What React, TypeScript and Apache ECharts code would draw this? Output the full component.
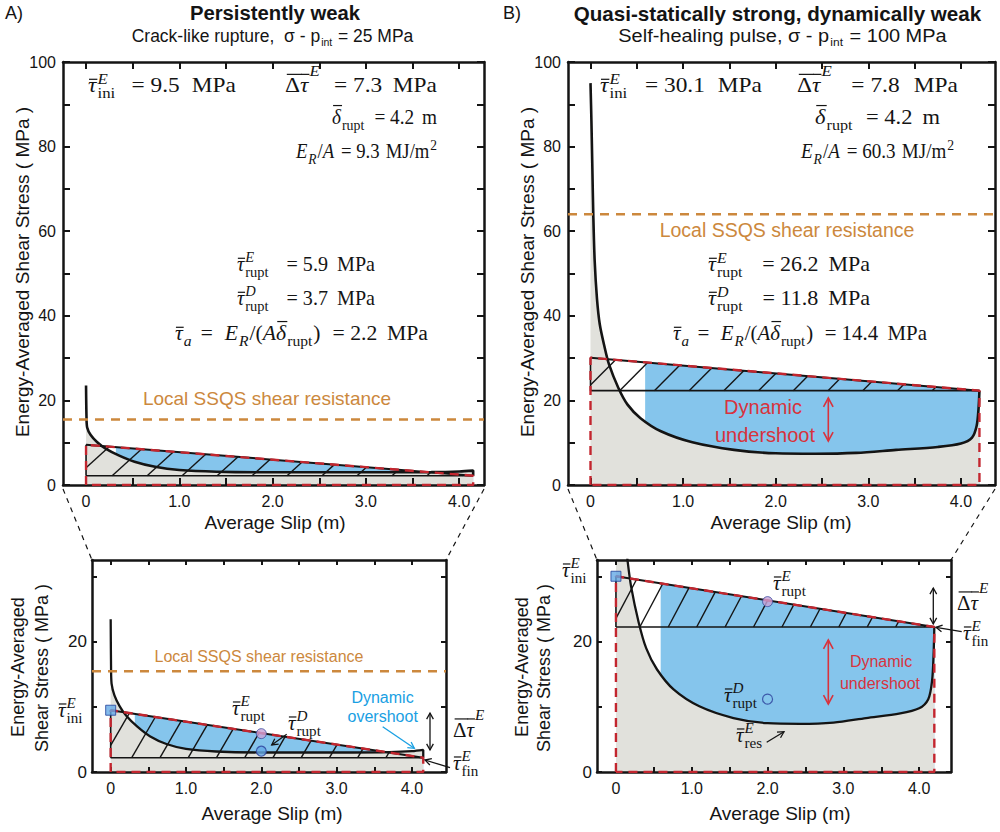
import React, { useEffect, useRef } from 'react';
import * as echarts from 'echarts';

// ---------- axis ticks / labels ----------
const X_TICKS = [0, 0.5, 1, 1.5, 2, 2.5, 3, 3.5, 4];
const X_LABELS = [0, 1, 2, 3, 4];
const Y_TICKS_TOP = [0, 10, 20, 30, 40, 50, 60, 70, 80, 90, 100];
const Y_LABELS_TOP = [0, 20, 40, 60, 80, 100];
const Y_TICKS_BOTTOM = [0, 10, 20, 30];
const Y_LABELS_BOTTOM = [0, 20];

// ---------- Panel A : persistently weak ----------
const A_SLIP = [0, 0.005, 0.012, 0.05, 0.12, 0.21, 0.35, 0.52, 0.74, 1.0, 1.4, 2.0, 2.6, 3.2, 3.7, 4.0, 4.15, 4.15];
const A_STRESS = [23.5, 16.0, 13.6, 11.8, 10.1, 8.6, 7.0, 5.5, 4.3, 3.55, 3.15, 3.0, 3.0, 3.0, 3.05, 3.2, 3.4, 2.2];
const A_TAU_INI = 9.5;
const A_DTAU = 7.3;
const A_DELTA = 4.15;
const A_SSQS = 15.5;
const A_BLUE_FROM = 0.32;
const A_RUPT_E = [2.0, 5.9];
const A_RUPT_D = [2.0, 3.2];

// ---------- Panel B : quasi-statically strong, dynamically weak ----------
const B_SLIP = [0, 0.01, 0.02, 0.03, 0.045, 0.07, 0.1, 0.15, 0.2, 0.3, 0.4, 0.54, 0.76, 1.1, 1.55, 2.0, 2.43, 2.87, 3.3, 3.75, 4.0, 4.12, 4.17, 4.19, 4.2];
const B_STRESS = [95, 86, 75, 64, 53, 44, 38, 32.8, 28.5, 23, 19, 15.8, 12.7, 10.1, 8.3, 7.5, 7.4, 7.6, 8.3, 9.0, 9.8, 11.2, 14, 18, 22.3];
const B_TAU_INI = 30.1;
const B_DTAU = 7.8;
const B_DELTA = 4.2;
const B_SSQS = 64;
const B_BLUE_FROM = 0.59;
const B_RUPT_E = [2.0, 26.2];
const B_RUPT_D = [2.0, 11.2];

// ---------- styling ----------
const SANS = '"Liberation Sans", Arial, Helvetica, sans-serif';
const SERIF = '"Liberation Serif", "Times New Roman", serif';
const BLACK = '#141414';
const GRAY = '#e1e1dc';
const BLUE = '#85c5ec';
const RED = '#c3262f';
const RED_TXT = '#d8333d';
const ORANGE = '#cc883d';
const CYAN = '#19a0e3';

const GRIDS = [
  { left: 63, top: 62, width: 421, height: 423 },
  { left: 568, top: 62, width: 427, height: 423 },
  { left: 92, top: 560, width: 354, height: 212 },
  { left: 597, top: 560, width: 354, height: 212 },
];
const XR = [[-0.247, 4.266], [-0.243, 4.368], [-0.248, 4.452], [-0.25, 4.42]];
const YR = [[0, 100], [0, 100], [0, 32.6], [0, 32.6]];

let _ctx: any = null;
function tw(text: string, size: number, italic: boolean, fam: string, bold = false) {
  if (!_ctx) _ctx = document.createElement('canvas').getContext('2d');
  _ctx.font = `${italic ? 'italic ' : ''}${bold ? 'bold ' : ''}${size}px ${fam}`;
  return _ctx.measureText(text).width;
}

function textEl(text: string, x: number, y: number, size: number, o: any = {}) {
  return {
    type: 'text', x, y, silent: true, z: 100, rotation: o.rot || 0, scaleX: o.sx || 1,
    style: {
      text, fontSize: size, fontFamily: o.fam || SANS,
      fontStyle: o.it ? 'italic' : 'normal', fontWeight: o.bold ? 'bold' : 'normal',
      fill: o.color || BLACK,
      align: o.align || 'center', textAlign: o.align || 'center',
      verticalAlign: 'middle', textVerticalAlign: 'middle',
    },
  };
}

const clamp = (v: number, a: number, b: number) => Math.max(a, Math.min(b, v));

// tiny math layout: tokens {t,it,ob} | {sup,sub} | {sp}
function layoutMath(toks: any[], size: number, fam: string, ss: number, g: number, k: number) {
  const items: any[] = [];
  let x = 0, sp = 0;
  for (const tk of toks) {
    if (tk.sp != null) { x += tk.sp * size * k; sp += tk.sp * size; continue; }
    if (tk.t != null) {
      const sz = size * (tk.sc || 1);
      const w = tw(tk.t, sz, !!tk.it, fam) * g;
      items.push({ t: tk.t, x, dy: (tk.dy || 0) * size, sz, it: !!tk.it, w, ob: tk.ob });
      x += w;
    } else {
      const sz = size * ss;
      let w = 0;
      if (tk.sup) {
        const ww = tw(tk.sup, sz, !!tk.supIt, fam) * g;
        items.push({ t: tk.sup, x: x + g, dy: (tk.supDy != null ? tk.supDy : -0.42) * size, sz, it: !!tk.supIt, w: ww });
        w = Math.max(w, ww);
      }
      if (tk.sub) {
        const ww = tw(tk.sub, sz, !!tk.subIt, fam) * g;
        items.push({ t: tk.sub, x: x + g, dy: (tk.subDy != null ? tk.subDy : 0.3) * size, sz, it: !!tk.subIt, w: ww });
        w = Math.max(w, ww);
      }
      x += w + 2 * g;
    }
  }
  return { items, W: x, Sp: sp };
}

function mathEls(x0: number, base: number, toks: any[], size: number, o: any = {}) {
  const fam = o.fam || SERIF;
  const ss = o.ss || 0.72;
  const color = o.color || BLACK;
  let g = 1, k = 1;
  if (o.fitW) {
    const L0 = layoutMath(toks, size, fam, ss, 1, 1);
    const G = L0.W - L0.Sp;
    g = clamp(o.fitW / L0.W, 0.94, 1.14);
    if (L0.Sp > 0) {
      k = (o.fitW - G * g) / L0.Sp;
      if (k < 0.35 || k > 2.5) {
        k = clamp(k, 0.35, 2.5);
        g = clamp((o.fitW - L0.Sp * k) / G, 0.85, 1.2);
      }
    } else {
      g = clamp(o.fitW / L0.W, 0.85, 1.2);
    }
  }
  const L = layoutMath(toks, size, fam, ss, g, k);
  const W = L.W;
  const off = o.align === 'center' ? -W / 2 : o.align === 'right' ? -W : 0;
  const els: any[] = [];
  for (const it of L.items) {
    const X = x0 + off + it.x;
    els.push(textEl(it.t, X, base + it.dy - 0.34 * it.sz, it.sz, { fam, it: it.it, color, align: 'left', sx: g }));
    if (it.ob) {
      const yy = base - it.ob * size;
      els.push({
        type: 'line', silent: true, z: 100,
        shape: { x1: X + 0.12 * it.w, y1: yy, x2: X + it.w * 1.12, y2: yy },
        style: { stroke: color, lineWidth: 1.2 },
      });
    }
  }
  return els;
}

const TAU = { t: 'τ', it: true, ob: 0.62 };
const DELTA = { t: 'δ', it: true, ob: 0.9 };
const DT = [{ t: 'Δ', ob: 0.86 }, { t: 'τ', it: true, ob: 0.86 }, { sup: 'E', supIt: true, supDy: -0.78 }];
const S = (sup: any, sub: any, o: any = {}) => ({ sup, sub, supIt: true, ...o });
const EQ = (v: string, u: string) => [{ sp: 0.3 }, { t: ' = ' + v }, { sp: 0.2 }, { t: ' ' + u }];
const TAU_A = (v: string) => [TAU, { sub: 'a', subIt: true }, { sp: 0.3 }, { t: '=  E', it: true }, { sub: 'R', subIt: true }, { t: '/(' }, { t: 'A', it: true }, DELTA, { sub: 'rupt' }, { t: ')' }, ...EQ(v, 'MPa')];
const ER = (v: string) => [{ t: 'E', it: true }, { sub: 'R', subIt: true }, { t: '/' }, { t: 'A', it: true }, ...EQ(v, 'MJ/m'), { sup: '2', supDy: -0.42 }];

function arrowEls(x1: number, y1: number, x2: number, y2: number, color: string, o: any = {}) {
  const w = o.w || 1.3, head = o.head || 7;
  const els: any[] = [{ type: 'line', silent: true, z: 100, shape: { x1, y1, x2, y2 }, style: { stroke: color, lineWidth: w } }];
  const headAt = (hx: number, hy: number, fx: number, fy: number) => {
    const a = Math.atan2(hy - fy, hx - fx);
    const ang = 0.5;
    return {
      type: 'polyline', silent: true, z: 100,
      shape: { points: [[hx - head * Math.cos(a - ang), hy - head * Math.sin(a - ang)], [hx, hy], [hx - head * Math.cos(a + ang), hy - head * Math.sin(a + ang)]] },
      style: { stroke: color, lineWidth: w, fill: null },
    };
  };
  els.push(headAt(x2, y2, x1, y1));
  if (o.both) els.push(headAt(x1, y1, x2, y2));
  return els;
}

function hatch(tauIni: number, dTau: number, delta: number, k: number, b0: number) {
  const tauFin = tauIni - dTau;
  const m = dTau / delta;
  const step = 0.375;
  const segs: any[] = [];
  for (let b = b0 - 4 * step; b < delta; b += step) {
    let s1 = b, t1 = tauFin;
    if (b < 0) { s1 = 0; t1 = tauFin - k * b; if (t1 >= tauIni) continue; }
    const s2 = (dTau + k * b) / (k + m);
    const t2 = tauIni - m * s2;
    if (s2 <= s1) continue;
    segs.push({ coords: [[s1, t1], [s2, t2]] });
  }
  return segs;
}

function panelSeries(p: number, c: any) {
  const tauFin = c.tauIni - c.dTau;
  const slope = (s: number) => c.tauIni - (c.dTau * s) / c.delta;
  const big = p < 2;
  const base = { silent: true, symbol: 'none', animation: false, xAxisIndex: 2 * p, yAxisIndex: 2 * p };
  const curve = c.slip.map((s: number, i: number) => [s, c.stress[i]]);
  const out: any[] = [
    { ...base, type: 'line', data: [[c.blueFrom, slope(c.blueFrom)], [c.delta, tauFin]], lineStyle: { width: 0 }, areaStyle: { color: BLUE, opacity: 1, origin: 'start' }, z: 1 },
    { ...base, type: 'line', data: curve, smooth: 0.3, lineStyle: { width: 0 }, areaStyle: { color: GRAY, opacity: 1, origin: 'start' }, z: 2 },
    { ...base, type: 'lines', coordinateSystem: 'cartesian2d', polyline: false, data: hatch(c.tauIni, c.dTau, c.delta, c.k, c.b0), lineStyle: { color: BLACK, width: 1.4, opacity: 1, curveness: 0 }, z: 4 },
    { ...base, type: 'line', data: [[0, tauFin], [c.delta, tauFin]], lineStyle: { color: BLACK, width: 1.6 }, z: 4 },
    { ...base, type: 'line', data: [[0, tauFin], [0, c.tauIni]], lineStyle: { color: BLACK, width: 1.6 }, z: 4 },
    { ...base, type: 'line', data: [[0, c.tauIni], [c.delta, tauFin]], lineStyle: { color: BLACK, width: 2 }, z: 4 },
    { ...base, type: 'line', data: curve, smooth: 0.3, lineStyle: { color: BLACK, width: big ? 2.6 : 2.3 }, z: 5 },
    { ...base, type: 'line', data: [[0, 0], [0, c.tauIni], [c.delta, tauFin], [c.delta, 0], [0, 0]], lineStyle: { color: RED, width: 2.4, type: [9, 6] }, z: 6 },
    { ...base, type: 'line', data: [[XR[p][0], c.ssqs], [XR[p][1], c.ssqs]], lineStyle: { color: ORANGE, width: 2.4, type: [9, 7] }, z: 6 },
  ];
  if (!big) {
    out.push({ ...base, type: 'scatter', symbol: 'rect', symbolSize: 10, data: [[0, c.tauIni]], itemStyle: { color: '#64a9e6', borderColor: '#1f3e98', borderWidth: 1 }, z: 8 });
    out.push({ ...base, type: 'scatter', symbol: 'circle', symbolSize: 10, data: [c.ruptE], itemStyle: { color: '#c7a2d7', borderColor: '#3b4fa0', borderWidth: 1 }, z: 8 });
    out.push({ ...base, type: 'scatter', symbol: 'circle', symbolSize: 10, data: [c.ruptD], itemStyle: { color: p === 2 ? '#64a9e6' : BLUE, borderColor: '#2c3f9a', borderWidth: 1.2 }, z: 8 });
  }
  return out;
}

function buildOption() {
  const A = { slip: A_SLIP, stress: A_STRESS, tauIni: A_TAU_INI, dTau: A_DTAU, delta: A_DELTA, ssqs: A_SSQS, blueFrom: A_BLUE_FROM, k: 20, b0: 0.28, ruptE: A_RUPT_E, ruptD: A_RUPT_D };
  const B = { slip: B_SLIP, stress: B_STRESS, tauIni: B_TAU_INI, dTau: B_DTAU, delta: B_DELTA, ssqs: B_SSQS, blueFrom: B_BLUE_FROM, k: 22, b0: 0.315, ruptE: B_RUPT_E, ruptD: B_RUPT_D };

  const xAxis: any[] = [], yAxis: any[] = [];
  for (let p = 0; p < 4; p++) {
    const big = p < 2;
    const lineStyle = { color: BLACK, width: 2.5 };
    const tick = (vals: number[]) => ({ show: true, inside: true, length: big ? 7 : 5, lineStyle: { color: BLACK, width: 2 }, customValues: vals });
    const xl = { show: true, customValues: X_LABELS, formatter: (v: number) => (v === 0 ? '0' : v.toFixed(1)), fontSize: 16, fontFamily: SANS, color: BLACK, margin: 8 };
    const common = { gridIndex: p, type: 'value', splitLine: { show: false }, z: 3 };
    xAxis.push({ ...common, min: XR[p][0], max: XR[p][1], position: 'bottom', axisLine: { show: true, onZero: false, lineStyle }, axisTick: tick(X_TICKS), axisLabel: xl });
    xAxis.push({ ...common, min: XR[p][0], max: XR[p][1], position: 'top', axisLine: { show: true, onZero: false, lineStyle }, axisTick: tick(X_TICKS), axisLabel: { show: false } });
    const yt = big ? Y_TICKS_TOP : Y_TICKS_BOTTOM;
    const yl = { show: true, customValues: big ? Y_LABELS_TOP : Y_LABELS_BOTTOM, formatter: (v: number) => String(v), fontSize: big ? 16 : 17, fontFamily: SANS, color: BLACK, margin: big ? 7 : 5 };
    yAxis.push({ ...common, min: YR[p][0], max: YR[p][1], position: 'left', axisLine: { show: true, onZero: false, lineStyle }, axisTick: tick(yt), axisLabel: yl });
    yAxis.push({ ...common, min: YR[p][0], max: YR[p][1], position: 'right', axisLine: { show: true, onZero: false, lineStyle }, axisTick: tick(yt), axisLabel: { show: false } });
  }

  const series = [...panelSeries(0, A), ...panelSeries(1, B), ...panelSeries(2, A), ...panelSeries(3, B)];

  const G: any[] = [];
  const add = (a: any) => { if (Array.isArray(a)) G.push(...a); else G.push(a); };
  // titles
  add(textEl('A)', 14, 13, 18));
  add(textEl('Persistently weak', 275, 13, 20.3, { bold: true }));
  add(mathEls(131.7, 42, [{ t: 'Crack-like rupture,  σ - p' }, { sub: 'int', subDy: 0.22 }, { t: ' = 25 MPa' }], 18.5, { fam: SANS, ss: 0.6, fitW: 281.6 }));
  add(textEl('B)', 512, 13, 18));
  add(textEl('Quasi-statically strong, dynamically weak', 777.5, 13, 20.6, { bold: true }));
  add(mathEls(618.3, 42, [{ t: 'Self-healing pulse, σ - p' }, { sub: 'int', subDy: 0.22 }, { t: ' = 100 MPa' }], 18.5, { fam: SANS, ss: 0.6, fitW: 328.4 }));
  // axis titles
  const YT = 'Energy-Averaged Shear Stress ( MPa )';
  add(textEl(YT, 22, 272, 19, { rot: Math.PI / 2 }));
  add(textEl(YT, 527, 272, 19, { rot: Math.PI / 2 }));
  add(textEl('Average Slip (m)', 275, 522, 19));
  add(textEl('Average Slip (m)', 781, 522, 19));
  add(textEl('Energy-Averaged', 18, 667, 18, { rot: Math.PI / 2 }));
  add(textEl('Shear Stress ( MPa )', 42, 668, 18, { rot: Math.PI / 2 }));
  add(textEl('Energy-Averaged', 522, 667, 18, { rot: Math.PI / 2 }));
  add(textEl('Shear Stress ( MPa )', 544, 668, 18, { rot: Math.PI / 2 }));
  add(textEl('Average Slip (m)', 272, 813, 19));
  add(textEl('Average Slip (m)', 780, 813, 19));
  // SSQS labels
  add(textEl('Local SSQS shear resistance', 267, 398, 19, { color: ORANGE }));
  add(textEl('Local SSQS shear resistance', 787, 230, 19.5, { color: ORANGE }));
  add(textEl('Local SSQS shear resistance', 259, 656, 16, { color: ORANGE }));
  // dynamic labels
  add(textEl('Dynamic', 763, 407, 20, { color: RED_TXT }));
  add(textEl('undershoot', 765, 435, 20, { color: RED_TXT }));
  add(textEl('Dynamic', 881, 661, 16, { color: RED_TXT }));
  add(textEl('undershoot', 880, 683, 16, { color: RED_TXT }));
  add(textEl('Dynamic', 382.5, 697, 16, { color: CYAN }));
  add(textEl('overshoot', 382.7, 716, 16, { color: CYAN }));

  const M = 20.5;
  // top-left math (left edge, baseline, target width)
  add(mathEls(88, 92, [TAU, S('E', 'ini'), ...EQ('9.5', 'MPa')], M, { fitW: 148 }));
  add(mathEls(285, 92, [...DT, ...EQ('7.3', 'MPa')], M, { fitW: 152 }));
  add(mathEls(332, 124, [DELTA, { sub: 'rupt' }, ...EQ('4.2', 'm')], M, { fitW: 105 }));
  add(mathEls(296, 158, ER('9.3'), M, { fitW: 142 }));
  add(mathEls(237, 271, [TAU, S('E', 'rupt'), { sp: 0.3 }, ...EQ('5.9', 'MPa')], M, { fitW: 138 }));
  add(mathEls(237, 305, [TAU, S('D', 'rupt'), { sp: 0.3 }, ...EQ('3.7', 'MPa')], M, { fitW: 138 }));
  add(mathEls(175, 340, TAU_A('2.2'), M, { fitW: 253 }));
  // top-right math
  add(mathEls(600, 92, [TAU, S('E', 'ini'), ...EQ('30.1', 'MPa')], M, { fitW: 162 }));
  add(mathEls(797, 92, [...DT, ...EQ('7.8', 'MPa')], M, { fitW: 161 }));
  add(mathEls(815, 124, [DELTA, { sub: 'rupt' }, ...EQ('4.2', 'm')], M, { fitW: 125 }));
  add(mathEls(801, 158, ER('60.3'), M, { fitW: 154 }));
  add(mathEls(708, 271, [TAU, S('E', 'rupt'), { sp: 0.3 }, ...EQ('26.2', 'MPa')], M, { fitW: 162 }));
  add(mathEls(708, 305, [TAU, S('D', 'rupt'), { sp: 0.3 }, ...EQ('11.8', 'MPa')], M, { fitW: 162 }));
  add(mathEls(673, 340, TAU_A('14.4'), M, { fitW: 254 }));

  // bottom-left labels
  const bo = { ss: 0.72 };
  add(mathEls(58, 717, [TAU, S('E', 'ini')], 21, bo));
  add(mathEls(232, 715, [TAU, S('E', 'rupt')], 21, bo));
  add(mathEls(288, 730, [TAU, S('D', 'rupt')], 21, bo));
  add(mathEls(453, 737, DT, 21, bo));
  add(mathEls(453, 770, [TAU, S('E', 'fin')], 21, bo));
  // bottom-right labels
  add(mathEls(562, 577, [TAU, S('E', 'ini')], 21, bo));
  add(mathEls(773, 590, [TAU, S('E', 'rupt')], 21, bo));
  add(mathEls(724, 702, [TAU, S('D', 'rupt')], 21, bo));
  add(mathEls(736, 742, [TAU, S('E', 'res')], 21, bo));
  add(mathEls(957, 610, DT, 21, bo));
  add(mathEls(963, 640, [TAU, S('E', 'fin')], 21, bo));

  // arrows
  add(arrowEls(286.7, 734.3, 271.7, 745, BLACK));
  add(arrowEls(382.7, 726.7, 414.3, 748.3, CYAN));
  add(arrowEls(430, 713, 430, 750, BLACK, { both: true }));
  add(arrowEls(450, 767.7, 425, 760, BLACK));
  add(arrowEls(766.7, 742.3, 784, 731.7, BLACK));
  add(arrowEls(828.3, 640, 828.3, 704, RED_TXT, { both: true, head: 10, w: 1.6 }));
  add(arrowEls(933.3, 588, 933.3, 624, BLACK, { both: true }));
  add(arrowEls(961.7, 631.7, 936, 627.3, BLACK));
  add(arrowEls(828.3, 398, 828.3, 441, RED_TXT, { both: true, head: 10, w: 1.6 }));

  // zoom connectors
  const dash = (x1: number, y1: number, x2: number, y2: number) => ({ type: 'line', silent: true, z: 100, shape: { x1, y1, x2, y2 }, style: { stroke: BLACK, lineWidth: 1.2, lineDash: [5, 5] } });
  add(dash(63, 489, 92, 560));
  add(dash(484, 489, 446, 560));
  add(dash(568, 489, 597, 560));
  add(dash(995, 489, 951, 560));

  return {
    animation: false,
    backgroundColor: '#ffffff',
    grid: GRIDS.map((g) => ({ ...g, containLabel: false, outerBoundsMode: 'none' })),
    xAxis,
    yAxis,
    series,
    graphic: G,
  };
}

export default function App() {
  const ref = useRef<HTMLDivElement>(null);
  useEffect(() => {
    const chart = echarts.init(ref.current as HTMLDivElement, null, { renderer: 'svg' });
    chart.setOption(buildOption() as any);
    return () => chart.dispose();
  }, []);
  return <div ref={ref} style={{ position: 'absolute', left: 0, top: 0, width: 1000, height: 832, background: '#fff' }} />;
}
